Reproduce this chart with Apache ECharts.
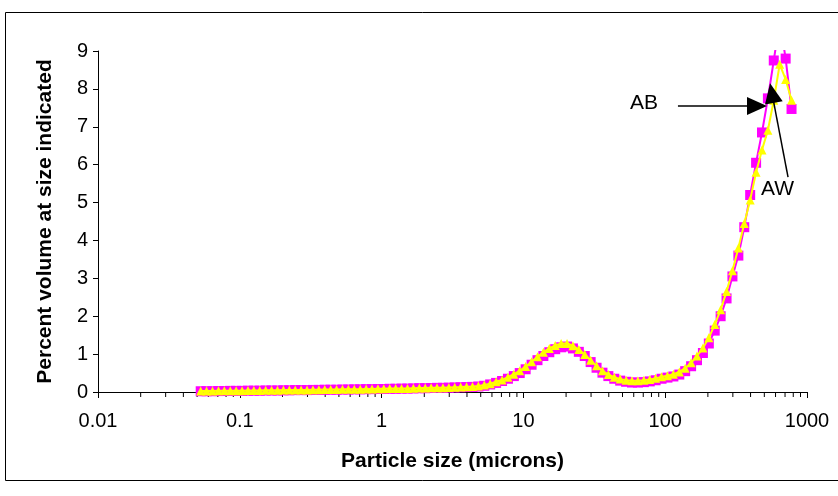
<!DOCTYPE html>
<html>
<head>
<meta charset="utf-8">
<script src="https://cdn.jsdelivr.net/npm/echarts@6/dist/echarts.min.js"></script>
<style>
html,body{margin:0;padding:0;background:#fff;}
#chart{width:838px;height:496px;}
</style>
</head>
<body>
<div id="chart"></div>
<script>
// Particle sizes (microns)
const sizes = [
  0.053, 0.0583, 0.0642, 0.0707, 0.0778, 0.0856, 0.0942, 0.1037, 0.1142, 0.1257, 0.1383, 0.1523,
  0.1676, 0.1845, 0.2031, 0.2235, 0.2460, 0.2708, 0.2980, 0.3281, 0.3611, 0.3974, 0.4375, 0.4815,
  0.530, 0.583, 0.642, 0.707, 0.778, 0.856, 0.942, 1.037, 1.142, 1.257, 1.383, 1.523,
  1.676, 1.845, 2.031, 2.235, 2.460, 2.708, 2.980, 3.281, 3.611, 3.974, 4.375, 4.815,
  5.30, 5.83, 6.42, 7.07, 7.78, 8.56, 9.42, 10.37, 11.42, 12.57, 13.83, 15.23,
  16.76, 18.45, 20.31, 22.35, 24.60, 27.08, 29.80, 32.81, 36.11, 39.74, 43.75, 48.15,
  53.0, 58.3, 64.2, 70.7, 77.8, 85.6, 94.2, 103.7, 114.2, 125.7, 138.3, 152.3,
  167.6, 184.5, 203.1, 223.5, 246.0, 270.8, 298.0, 328.1, 361.1, 397.4, 437.5, 481.5,
  530, 583, 642, 707, 778
];
// Percent volume, magenta squares (AB)
const seriesAB = [
  0.02, 0.02, 0.02, 0.025, 0.025, 0.03, 0.03, 0.03, 0.035, 0.035,
  0.035, 0.04, 0.04, 0.04, 0.045, 0.045, 0.05, 0.05, 0.05, 0.055,
  0.055, 0.06, 0.06, 0.06, 0.065, 0.065, 0.07, 0.07, 0.075, 0.075,
  0.08, 0.08, 0.085, 0.085, 0.09, 0.09, 0.095, 0.1, 0.1, 0.105,
  0.11, 0.11, 0.115, 0.12, 0.125, 0.13, 0.135,
  0.145, 0.165, 0.2, 0.24, 0.29, 0.35, 0.42, 0.5, 0.6, 0.72,
  0.84, 0.95, 1.05, 1.13, 1.18, 1.2, 1.15, 1.06, 0.95, 0.79,
  0.64, 0.51, 0.42, 0.35, 0.30, 0.27, 0.25, 0.25, 0.26, 0.28,
  0.31, 0.35, 0.38, 0.41, 0.46, 0.55, 0.68, 0.84, 1.03, 1.28, 1.62, 2.0,
  2.47, 3.05, 3.6, 4.35, 5.2, 6.05, 6.85, 7.75, 8.75, 9.8, 8.8, 7.47
];
// Percent volume, yellow triangles (AW)
const seriesAW = [
  0.025, 0.025, 0.025, 0.03, 0.03, 0.035, 0.035, 0.035, 0.04, 0.04,
  0.04, 0.045, 0.045, 0.045, 0.05, 0.05, 0.055, 0.055, 0.055, 0.06,
  0.06, 0.065, 0.065, 0.065, 0.07, 0.07, 0.075, 0.075, 0.08, 0.08,
  0.085, 0.085, 0.09, 0.09, 0.095, 0.095, 0.1, 0.105, 0.105, 0.11,
  0.115, 0.115, 0.12, 0.125, 0.13, 0.14, 0.145,
  0.16, 0.185, 0.22, 0.27, 0.32, 0.39, 0.47, 0.56, 0.67, 0.80,
  0.93, 1.05, 1.15, 1.23, 1.28, 1.28, 1.22, 1.12, 0.99, 0.84,
  0.69, 0.56, 0.46, 0.39, 0.34, 0.31, 0.30, 0.30, 0.31, 0.33,
  0.36, 0.40, 0.43, 0.47, 0.53, 0.63, 0.77, 0.95, 1.16, 1.43, 1.78, 2.17,
  2.65, 3.2, 3.8, 4.45, 5.07, 5.8, 6.39, 6.91, 7.7, 8.65, 8.25, 7.7
];
const xTickLabels = ['0.01', '0.1', '1', '10', '100', '1000'];
const yTickLabels = ['0', '1', '2', '3', '4', '5', '6', '7', '8', '9'];
const minorTickValues = [
  0.02, 0.03, 0.04, 0.05, 0.06, 0.07, 0.08, 0.09,
  0.2, 0.3, 0.4, 0.5, 0.6, 0.7, 0.8, 0.9,
  2, 3, 4, 5, 6, 7, 8, 9,
  20, 30, 40, 50, 60, 70, 80, 90,
  200, 300, 400, 500, 600, 700, 800, 900
];
const xAxisTitle = 'Particle size (microns)';
const yAxisTitle = 'Percent volume at size indicated';
// annotation arrows (data coordinates: [size, percent])
const arrowAB = [[123, 7.55], [444, 7.55]];
const arrowAW = [[735, 5.67], [566, 7.89]];

const chart = echarts.init(document.getElementById('chart'));
const font = 'Arial, "Liberation Sans", sans-serif';

const option = {
  animation: false,
  backgroundColor: '#fff',
  grid: { left: 98, right: 31, top: 51, bottom: 104, containLabel: false },
  xAxis: {
    type: 'log',
    logBase: 10,
    min: 0.01,
    max: 1000,
    name: xAxisTitle,
    nameLocation: 'middle',
    nameGap: 59,
    nameTextStyle: { fontFamily: font, fontSize: 21, fontWeight: 'bold', color: '#000' },
    axisLine: { lineStyle: { color: '#000', width: 1 } },
    axisTick: { show: true, inside: false, length: 6, lineStyle: { color: '#000' } },
    axisLabel: {
      margin: 19,
      fontFamily: font, fontSize: 20, color: '#000',
      formatter: function (v) {
        const idx = Math.round(Math.log10(v)) + 2;
        return xTickLabels[idx] !== undefined ? xTickLabels[idx] : '';
      }
    },
    splitLine: { show: false },
    minorTick: { show: false }
  },
  yAxis: {
    type: 'value',
    min: 0,
    max: 9,
    interval: 1,
    name: yAxisTitle,
    nameLocation: 'middle',
    nameGap: 42,
    nameTextStyle: { fontFamily: font, fontSize: 21, fontWeight: 'bold', color: '#000' },
    axisLine: { show: true, lineStyle: { color: '#000', width: 1 } },
    axisTick: { show: true, inside: false, length: 5, lineStyle: { color: '#000' } },
    axisLabel: {
      margin: 10,
      fontFamily: font, fontSize: 20, color: '#000',
      formatter: function (v) { return yTickLabels[Math.round(v)]; }
    },
    splitLine: { show: false }
  },
  graphic: [
    {
      type: 'rect', silent: true,
      shape: { x: 5.5, y: 12.5, width: 840, height: 468 },
      style: { fill: 'none', stroke: '#000', lineWidth: 1 }
    },
    {
      type: 'text', silent: true, left: 630, top: 93,
      style: { text: 'AB', fontFamily: font, fontSize: 21, fill: '#000' }
    },
    {
      type: 'text', silent: true, left: 761, top: 179,
      style: { text: 'AW', fontFamily: font, fontSize: 21, fill: '#000' }
    }
  ],
  series: [
    {
      name: 'AB',
      type: 'line',
      data: sizes.map((s, i) => [s, seriesAB[i]]),
      symbol: 'rect',
      symbolSize: 10,
      lineStyle: { color: '#FF00FF', width: 2 },
      itemStyle: { color: '#FF00FF', borderWidth: 0 },
      clip: true,
      z: 2
    },
    {
      name: 'AW',
      type: 'line',
      data: sizes.map((s, i) => [s, seriesAW[i]]),
      symbol: 'triangle',
      symbolSize: 9,
      lineStyle: { color: '#FFFF00', width: 2 },
      itemStyle: { color: '#FFFF00', borderWidth: 0 },
      clip: true,
      z: 3,
      markLine: {
        silent: true,
        symbol: ['none', 'triangle'],
        symbolSize: [18, 20],
        lineStyle: { color: '#000', width: 1.5, type: 'solid' },
        itemStyle: { color: '#000' },
        label: { show: false },
        data: [
          [{ coord: arrowAB[0] }, { coord: arrowAB[1] }],
          [{ coord: arrowAW[0] }, { coord: arrowAW[1] }]
        ],
        z: 5
      }
    },
    {
      name: 'minorTicks',
      type: 'custom',
      silent: true,
      clip: false,
      data: minorTickValues.map(v => [v, 0]),
      renderItem: function (params, api) {
        const p = api.coord([api.value(0), api.value(1)]);
        return {
          type: 'line',
          shape: { x1: p[0], y1: p[1], x2: p[0], y2: p[1] + 5 },
          style: { stroke: '#000', lineWidth: 1 }
        };
      },
      z: 1
    }
  ]
};
chart.setOption(option);
</script>
</body>
</html>
